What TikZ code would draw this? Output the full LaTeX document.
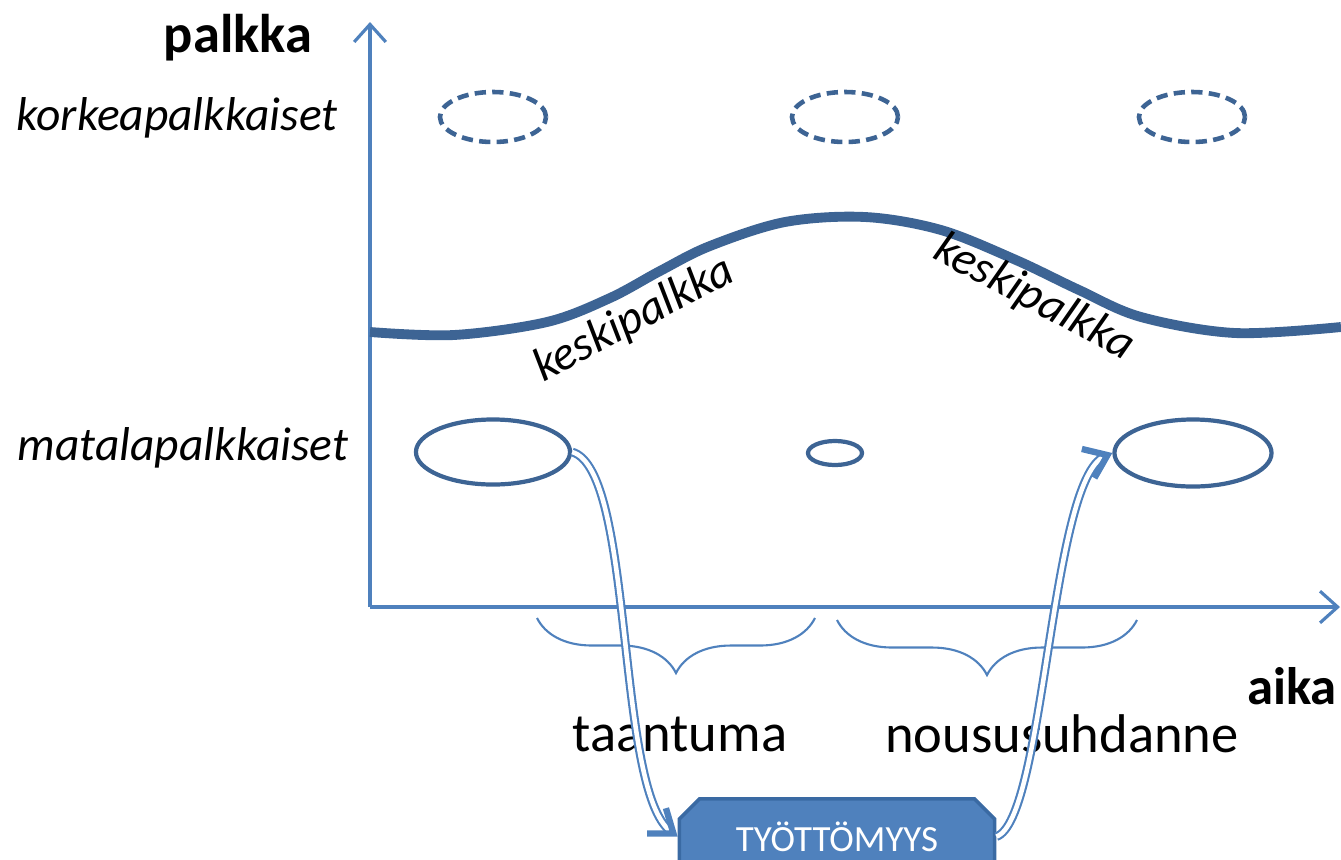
\documentclass[tikz,border=0pt]{standalone}
\usepackage{fontspec}
\setmainfont{Carlito}
\usetikzlibrary{arrows.meta,shapes.geometric,shapes.misc,decorations.pathreplacing}
\definecolor{axisblue}{HTML}{4F81BD}
\definecolor{darkblue}{HTML}{3D6494}
\definecolor{boxline}{HTML}{3A6AA3}
\tikzset{
	axis/.style={axisblue,line width=0.9pt,-{Straight Barb[length=5pt,width=9pt]}},
	highgroup/.style={ellipse,draw=darkblue,line width=1.3pt,dash pattern=on 3.2pt off 1.8pt,inner sep=0pt},
	lowgroup/.style={ellipse,draw=darkblue,line width=1.2pt,inner sep=0pt},
	flow/.style={axisblue,double=white,double distance=1.3pt,line width=0.6pt,-{Straight Barb[length=6pt,width=9pt,line width=1.8pt]}},
	period/.style={axisblue,line width=0.6pt,decorate,decoration={brace,mirror,amplitude=0.55cm,aspect=0.5}},
	sidelabel/.style={font=\fontsize{13.5}{16}\selectfont\itshape},
	keskilabel/.style={font=\fontsize{13.5}{16}\selectfont\itshape,inner sep=0pt}
}
\begin{document}
\begin{tikzpicture}[x=0.01cm,y=-0.01cm]
		\useasboundingbox (0,0) rectangle (1341,860);
		% axes
		\coordinate (origin) at (370,607);
		\coordinate (ytop) at (370,22);
		\coordinate (xend) at (1340,607);
		\draw[axis] (origin)--(ytop);
		\draw[axis] (origin)--(xend);
		\node[font=\fontsize{15.5}{18}\selectfont\bfseries] (palkka) at (238,38) {palkka};
		\node[font=\fontsize{15}{18}\selectfont\bfseries] (aika) at (1292,686) {aika};
		\node[sidelabel] (korkea) at (177,118) {korkeapalkkaiset};
		\node[sidelabel] (matala) at (183,448) {matalapalkkaiset};
		% high earners
		\node[highgroup,minimum width=1.06cm,minimum height=0.5cm] (hi1) at (493,117) {};
		\node[highgroup,minimum width=1.06cm,minimum height=0.5cm] (hi2) at (845,117) {};
		\node[highgroup,minimum width=1.06cm,minimum height=0.5cm] (hi3) at (1192,117) {};
		% average wage
		\draw[darkblue,line width=2.8pt] plot[smooth,tension=0.55] coordinates {(370,332) (454,335) (547,322) (610,298) (660,271) (710,246) (785,222) (865,217) (941,230) (1016,260) (1079,290) (1141,317) (1235,333) (1341,327)};
		\node[keskilabel,rotate=28] (kp1) at (634,320) {keskipalkka};
		\node[keskilabel,rotate=-28] (kp2) at (1034,298) {keskipalkka};
		% low earners
		\node[lowgroup,minimum width=1.54cm,minimum height=0.65cm] (lo1) at (493,452) {};
		\node[lowgroup,minimum width=0.54cm,minimum height=0.24cm] (lo2) at (835,453) {};
		\node[lowgroup,minimum width=1.57cm,minimum height=0.67cm] (lo3) at (1193,453) {};
		% periods
		\coordinate (t1) at (537,618);
		\coordinate (t2) at (815,618);
		\coordinate (n1) at (837,620);
		\coordinate (n2) at (1137,620);
		\draw[period] (t1)--(t2);
		\draw[period] (n1)--(n2);
		\node[font=\fontsize{15.5}{18}\selectfont] (taantuma) at (680,734) {taantuma};
		\node[font=\fontsize{15.5}{18}\selectfont] (nousu) at (1062,734) {noususuhdanne};
		% unemployment
		\node[chamfered rectangle,chamfered rectangle corners={north west,north east},chamfered rectangle xsep=0.09cm,
			fill=axisblue,draw=boxline,line width=1pt,minimum width=3.15cm,minimum height=0.7cm,anchor=north,
			text=white,font=\fontsize{10.5}{12}\selectfont] (tyott) at (837,797) {TYÖTTÖMYYS};
		\draw[flow] (lo1.east) .. controls (635,470) and (615,790) .. (tyott.west);
		\draw[flow] (tyott.east) .. controls (1045,820) and (1050,480) .. (lo3.west);
	\end{tikzpicture}
\end{document}
